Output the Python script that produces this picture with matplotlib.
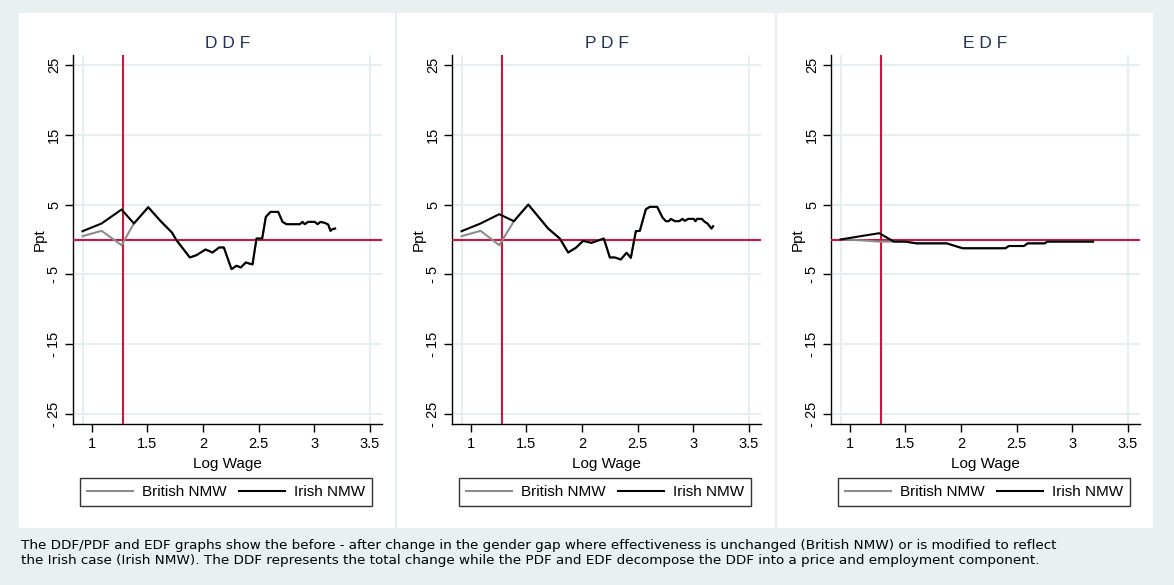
import matplotlib
matplotlib.use("Agg")
import matplotlib.pyplot as plt
from matplotlib.patches import Rectangle
from matplotlib.lines import Line2D

plt.rcParams['font.family'] = ['Liberation Sans', 'DejaVu Sans']

# panel titles and axis labels
titles = ["D D F", "P D F", "E D F"]
y_ticks = [25, 15, 5, -5, -15, -25]
y_tick_labels = ["25", "15", "5", "- 5", "- 15", "- 25"]
x_ticks = [1, 1.5, 2, 2.5, 3, 3.5]
x_tick_labels = ["1", "1.5", "2", "2.5", "3", "3.5"]
nmw_line = 1.28

# DDF
ddf_x = [0.916, 1.087, 1.267, 1.378, 1.507, 1.62, 1.72, 1.761, 1.881, 1.941, 2.022, 2.085,
         2.145, 2.187, 2.256, 2.301, 2.34, 2.385, 2.445, 2.481, 2.532, 2.565, 2.607, 2.676,
         2.715, 2.751, 2.871, 2.895, 2.915, 2.945, 3.005, 3.03, 3.057, 3.095, 3.126, 3.146,
         3.164, 3.188]
ddf_irish = [1.19, 2.29, 4.29, 2.29, 4.62, 2.6, 1.0, -0.1, -2.57, -2.24, -1.43, -1.86,
             -1.14, -1.14, -4.24, -3.76, -4.0, -3.29, -3.57, 0.14, 0.14, 3.24, 3.95, 3.95,
             2.52, 2.19, 2.19, 2.52, 2.19, 2.52, 2.52, 2.19, 2.52, 2.38, 2.14, 1.24,
             1.48, 1.57]
ddf_british = [0.48, 1.24, -0.81] + ddf_irish[3:]

# PDF
pdf_x = [0.916, 1.087, 1.255, 1.387, 1.516, 1.695, 1.80, 1.875, 1.944, 2.01, 2.085, 2.196,
         2.25, 2.295, 2.349, 2.40, 2.439, 2.484, 2.52, 2.574, 2.61, 2.676, 2.724, 2.754,
         2.78, 2.799, 2.835, 2.874, 2.904, 2.925, 2.955, 3.005, 3.02, 3.035, 3.077, 3.104,
         3.128, 3.164, 3.179]
pdf_irish = [1.19, 2.29, 3.62, 2.62, 5.0, 1.57, 0.14, -1.86, -1.19, -0.19, -0.48, 0.14,
             -2.57, -2.57, -2.86, -1.9, -2.62, 1.19, 1.24, 4.33, 4.67, 4.67, 3.14, 2.62,
             2.62, 2.95, 2.62, 2.62, 2.95, 2.67, 2.95, 2.95, 2.62, 2.95, 2.95, 2.52,
             2.29, 1.57, 1.9]
pdf_british = [0.48, 1.24, -0.81] + pdf_irish[3:]

# EDF
edf_x = [0.916, 1.087, 1.264, 1.396, 1.495, 1.60, 1.87, 2.013, 2.40, 2.43, 2.565, 2.60,
         2.754, 2.775, 3.188]
edf_irish = [0.0, 0.45, 0.9, -0.3, -0.3, -0.55, -0.55, -1.25, -1.25, -0.93, -0.93, -0.55,
             -0.55, -0.3, -0.3]
edf_british = [0.0, -0.1, -0.3] + edf_irish[3:]

panels = [(ddf_x, ddf_british, ddf_irish),
          (pdf_x, pdf_british, pdf_irish),
          (edf_x, edf_british, edf_irish)]

caption = ("The DDF/PDF and EDF graphs show the before - after change in the gender gap where "
           "effectiveness is unchanged (British NMW) or is modified to reflect\n"
           "the Irish case (Irish NMW). The DDF represents the total change while the PDF and EDF "
           "decompose the DDF into a price and employment component.")

bg = "#e8f0f2"
grid_c = "#e6eef1"
red = "#c8163f"
navy = "#1f3358"

W, H = 1174, 585
fig = plt.figure(figsize=(W / 100, H / 100), dpi=100, facecolor=bg)

# white plot region and dividers
fig.patches.append(Rectangle((19 / W, 1 - 528 / H), (1153 - 19) / W, (528 - 13) / H,
                             transform=fig.transFigure, facecolor="white", edgecolor="none", zorder=-2))
for xd in [396, 776]:
    fig.add_artist(Line2D([xd / W, xd / W], [1 - 528 / H, 1 - 13 / H], transform=fig.transFigure,
                          color=grid_c, lw=1.5, zorder=-1))

for k, (xs, brit, irish) in enumerate(panels):
    left = 73 + 379 * k
    ax = fig.add_axes([left / W, 1 - 424 / H, 309 / W, (424 - 55) / H])
    ax.set_facecolor("none")
    ax.set_xlim(0.83, 3.61)
    ax.set_ylim(-26.4, 26.4)
    for yt in y_ticks:
        ax.axhline(yt, color=grid_c, lw=1.5, zorder=0)
    for xg in [0.92, 3.5]:
        ax.axvline(xg, color=grid_c, lw=1.5, zorder=0)
    ax.axhline(0, color=red, lw=1.5, zorder=3)
    ax.axvline(nmw_line, color=red, lw=1.5, zorder=3)
    ax.plot(xs, brit, color="#8c8c8c", lw=1.5, label="British NMW", zorder=4)
    ax.plot(xs, irish, color="black", lw=1.5, label="Irish NMW", zorder=5)

    for s in ["top", "right"]:
        ax.spines[s].set_visible(False)
    ax.spines["left"].set_linewidth(1.0)
    ax.spines["bottom"].set_linewidth(1.0)

    ax.set_yticks(y_ticks)
    ax.set_yticklabels(y_tick_labels, rotation=90, va="center", fontsize=10.5)
    ax.set_xticks(x_ticks)
    ax.set_xticklabels(x_tick_labels, fontsize=10.5)
    ax.tick_params(axis="x", direction="out", length=6, width=1, pad=3)
    ax.tick_params(axis="y", direction="out", length=6, width=1, pad=2.5)

    ax.set_title(titles[k], color=navy, fontsize=12.5, pad=5)
    ax.set_ylabel("Ppt", fontsize=11, labelpad=0)
    ax.set_xlabel("Log Wage", fontsize=11, labelpad=5)

    leg = ax.legend(loc="center", bbox_to_anchor=(0.495, (1 - 492 / H - (1 - 424 / H)) / ((424 - 55) / H)),
                    ncol=2, fontsize=11, frameon=True, fancybox=False, handlelength=3.0,
                    columnspacing=0.8, handletextpad=0.6, borderpad=0.45, borderaxespad=0)
    leg.get_frame().set_edgecolor("black")
    leg.get_frame().set_linewidth(1.0)

fig.text(21 / W, 1 - 553 / H, caption, fontsize=9.7, family="DejaVu Sans",
         ha="left", va="center", linespacing=1.15)

fig.savefig("out.png", dpi=100, facecolor=bg)
